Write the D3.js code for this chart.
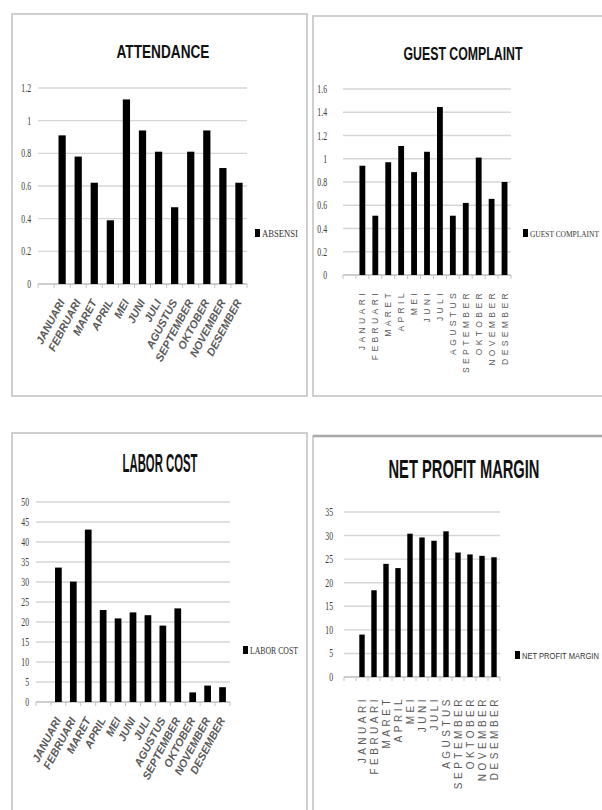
<!DOCTYPE html>
<html>
<head>
<meta charset="utf-8">
<script src="https://cdn.jsdelivr.net/npm/d3@7"></script>
<style>
  html, body { margin: 0; padding: 0; background: #fff; }
  svg { display: block; }
</style>
</head>
<body>
<svg id="chart" width="602" height="810"></svg>
<script>
// Monthly KPI data (12 months)
const months = ["JANUARI", "FEBRUARI", "MARET", "APRIL", "MEI", "JUNI", "JULI",
                "AGUSTUS", "SEPTEMBER", "OKTOBER", "NOVEMBER", "DESEMBER"];

const absensi         = [0.91, 0.78, 0.62, 0.39, 1.13, 0.94, 0.81, 0.47, 0.81, 0.94, 0.71, 0.62];
const guestComplaint  = [0.94, 0.51, 0.97, 1.11, 0.885, 1.06, 1.445, 0.51, 0.62, 1.01, 0.655, 0.80];
const laborCost       = [33.6, 30.1, 43.1, 23.0, 20.9, 22.4, 21.7, 19.1, 23.4, 2.4, 4.1, 3.7];
const netProfitMargin = [9.0, 18.4, 24.0, 23.1, 30.4, 29.6, 28.9, 30.9, 26.4, 26.0, 25.7, 25.4];

// Value-axis tick labels
const attendanceTicks = [0, 0.2, 0.4, 0.6, 0.8, 1, 1.2];
const complaintTicks  = [0, 0.2, 0.4, 0.6, 0.8, 1, 1.2, 1.4, 1.6];
const laborTicks      = [0, 5, 10, 15, 20, 25, 30, 35, 40, 45, 50];
const profitTicks     = [0, 5, 10, 15, 20, 25, 30, 35];

const svg = d3.select("#chart");

// Squeeze a text horizontally so that it spans the given width
function fitText(sel, x, y, width, anchor) {
  const natural = sel.node().getComputedTextLength();
  const k = Math.min(1, width / natural);
  sel.attr("x", 0).attr("y", 0)
    .attr("text-anchor", anchor)
    .attr("transform", `translate(${x},${y}) scale(${k},1)`);
}

// Each panel: frame, title, gridlines, bars, category labels, legend
function drawPanel(cfg) {
  const g = svg.append("g");

  // Frame
  g.append("rect")
    .attr("x", cfg.frame[0]).attr("y", cfg.frame[1])
    .attr("width", cfg.frame[2]).attr("height", cfg.frame[3])
    .attr("fill", "#fff")
    .attr("stroke", "#c4c4c4")
    .attr("stroke-width", 1.6);
  if (cfg.heavyTop) {
    g.append("line")
      .attr("x1", cfg.frame[0]).attr("x2", cfg.frame[0] + cfg.frame[2])
      .attr("y1", cfg.frame[1]).attr("y2", cfg.frame[1])
      .attr("stroke", "#a9a9a9").attr("stroke-width", 2.6);
  }

  // Title
  const title = g.append("text")
    .attr("font-family", "'Liberation Sans Narrow', 'Liberation Sans', Arial, sans-serif")
    .attr("font-weight", "bold")
    .attr("font-size", cfg.titleSize)
    .attr("fill", "#111")
    .text(cfg.title);
  fitText(title, cfg.titleX, cfg.titleY, cfg.titleLen, "middle");

  // Scales: a leading blank slot precedes the twelve months
  const x = d3.scaleBand()
    .domain(["", ...months])
    .range([cfg.left, cfg.right])
    .paddingInner(0.55)
    .paddingOuter(0.275);

  const y = d3.scaleLinear()
    .domain([0, cfg.ticks[cfg.ticks.length - 1]])
    .range([cfg.zero, cfg.top]);

  // Gridlines
  g.append("g").selectAll("line")
    .data(cfg.ticks.slice(1))
    .join("line")
    .attr("x1", cfg.left).attr("x2", cfg.right)
    .attr("y1", d => y(d)).attr("y2", d => y(d))
    .attr("stroke", "#d6d6d6").attr("stroke-width", 1.4);

  // Value labels (narrow serif)
  g.append("g").selectAll("text")
    .data(cfg.ticks)
    .join("text")
    .attr("transform", d => `translate(${cfg.tickRight},${y(d) + 4}) scale(0.62,1)`)
    .attr("text-anchor", "end")
    .attr("font-family", "'Liberation Serif', 'DejaVu Serif', serif")
    .attr("font-size", 12.5)
    .attr("fill", "#3a3a3a")
    .text(d => String(d));

  // Category axis line with ticks at slot boundaries
  g.append("line")
    .attr("x1", cfg.left).attr("x2", cfg.right)
    .attr("y1", y(0)).attr("y2", y(0))
    .attr("stroke", "#bdbdbd").attr("stroke-width", 1.4);
  g.append("g").selectAll("line")
    .data(d3.range(x.domain().length + 1))
    .join("line")
    .attr("x1", i => cfg.left + i * x.step())
    .attr("x2", i => cfg.left + i * x.step())
    .attr("y1", y(0)).attr("y2", y(0) + 4)
    .attr("stroke", "#c4c4c4").attr("stroke-width", 1);

  // Bars
  g.append("g").selectAll("rect")
    .data(months.map((m, i) => ({ m, v: cfg.values[i] })))
    .join("rect")
    .attr("x", d => x(d.m))
    .attr("width", x.bandwidth())
    .attr("y", d => y(d.v))
    .attr("height", d => y(0) - y(d.v))
    .attr("fill", "#000");

  // Category labels
  const lbl = g.append("g").selectAll("text")
    .data(months)
    .join("text")
    .attr("text-anchor", "end")
    .attr("fill", "#5a5a5a")
    .text(d => d);
  if (cfg.slanted) {
    lbl.attr("transform", d => `translate(${x(d) + x.bandwidth() / 2 + 3},${y(0) + 18}) rotate(-62)`)
      .attr("font-family", "'Liberation Sans', Arial, sans-serif")
      .attr("font-style", "italic")
      .attr("font-weight", "bold")
      .attr("font-size", 11);
  } else {
    lbl.attr("transform", d => `translate(${x(d) + x.bandwidth() / 2 + cfg.lblSize * 0.36},${y(0) + cfg.lblGap}) rotate(-90)`)
      .attr("font-family", "'Liberation Sans', Arial, sans-serif")
      .attr("font-size", cfg.lblSize)
      .attr("letter-spacing", cfg.lblSpacing);
  }

  // Legend
  g.append("rect")
    .attr("x", cfg.legendX).attr("y", cfg.legendY - 4)
    .attr("width", 5).attr("height", 8)
    .attr("fill", "#000");
  const leg = g.append("text")
    .attr("font-family", cfg.legendSans
      ? "'Liberation Sans Narrow', 'Liberation Sans', Arial, sans-serif"
      : "'Liberation Serif', 'DejaVu Serif', serif")
    .attr("font-size", cfg.legendSize)
    .attr("fill", "#333")
    .text(cfg.legend);
  fitText(leg, cfg.legendX + 7, cfg.legendY + 4, cfg.legendLen, "start");
}

drawPanel({
  frame: [12, 14, 295, 382],
  title: "ATTENDANCE", titleX: 163, titleY: 58, titleSize: 19, titleLen: 93,
  left: 38, right: 247, top: 88, zero: 284, tickRight: 31,
  ticks: attendanceTicks, values: absensi, slanted: true,
  legend: "ABSENSI", legendX: 255, legendY: 233, legendSize: 9.5, legendLen: 36
});

drawPanel({
  frame: [313, 16, 300, 380],
  title: "GUEST COMPLAINT", titleX: 463, titleY: 60, titleSize: 19, titleLen: 119,
  left: 343, right: 511, top: 89, zero: 275, tickRight: 327,
  ticks: complaintTicks, values: guestComplaint, slanted: false,
  lblSize: 8.5, lblSpacing: 3.4, lblGap: 15,
  legend: "GUEST COMPLAINT", legendX: 523, legendY: 233, legendSize: 9, legendLen: 69
});

drawPanel({
  frame: [12, 433, 295, 390],
  title: "LABOR COST", titleX: 160, titleY: 472, titleSize: 25, titleLen: 75,
  left: 36, right: 230, top: 502, zero: 702, tickRight: 29,
  ticks: laborTicks, values: laborCost, slanted: true,
  legend: "LABOR COST", legendX: 243, legendY: 650, legendSize: 9.5, legendLen: 48
});

drawPanel({
  frame: [313, 436, 300, 390], heavyTop: true,
  title: "NET PROFIT MARGIN", titleX: 464, titleY: 478, titleSize: 25, titleLen: 151,
  left: 344, right: 500, top: 512, zero: 677, tickRight: 333,
  ticks: profitTicks, values: netProfitMargin, slanted: false,
  lblSize: 10, lblSpacing: 3.5, lblGap: 19,
  legend: "NET PROFIT MARGIN", legendX: 515, legendY: 655, legendSize: 9, legendLen: 77, legendSans: true
});
</script>
</body>
</html>
